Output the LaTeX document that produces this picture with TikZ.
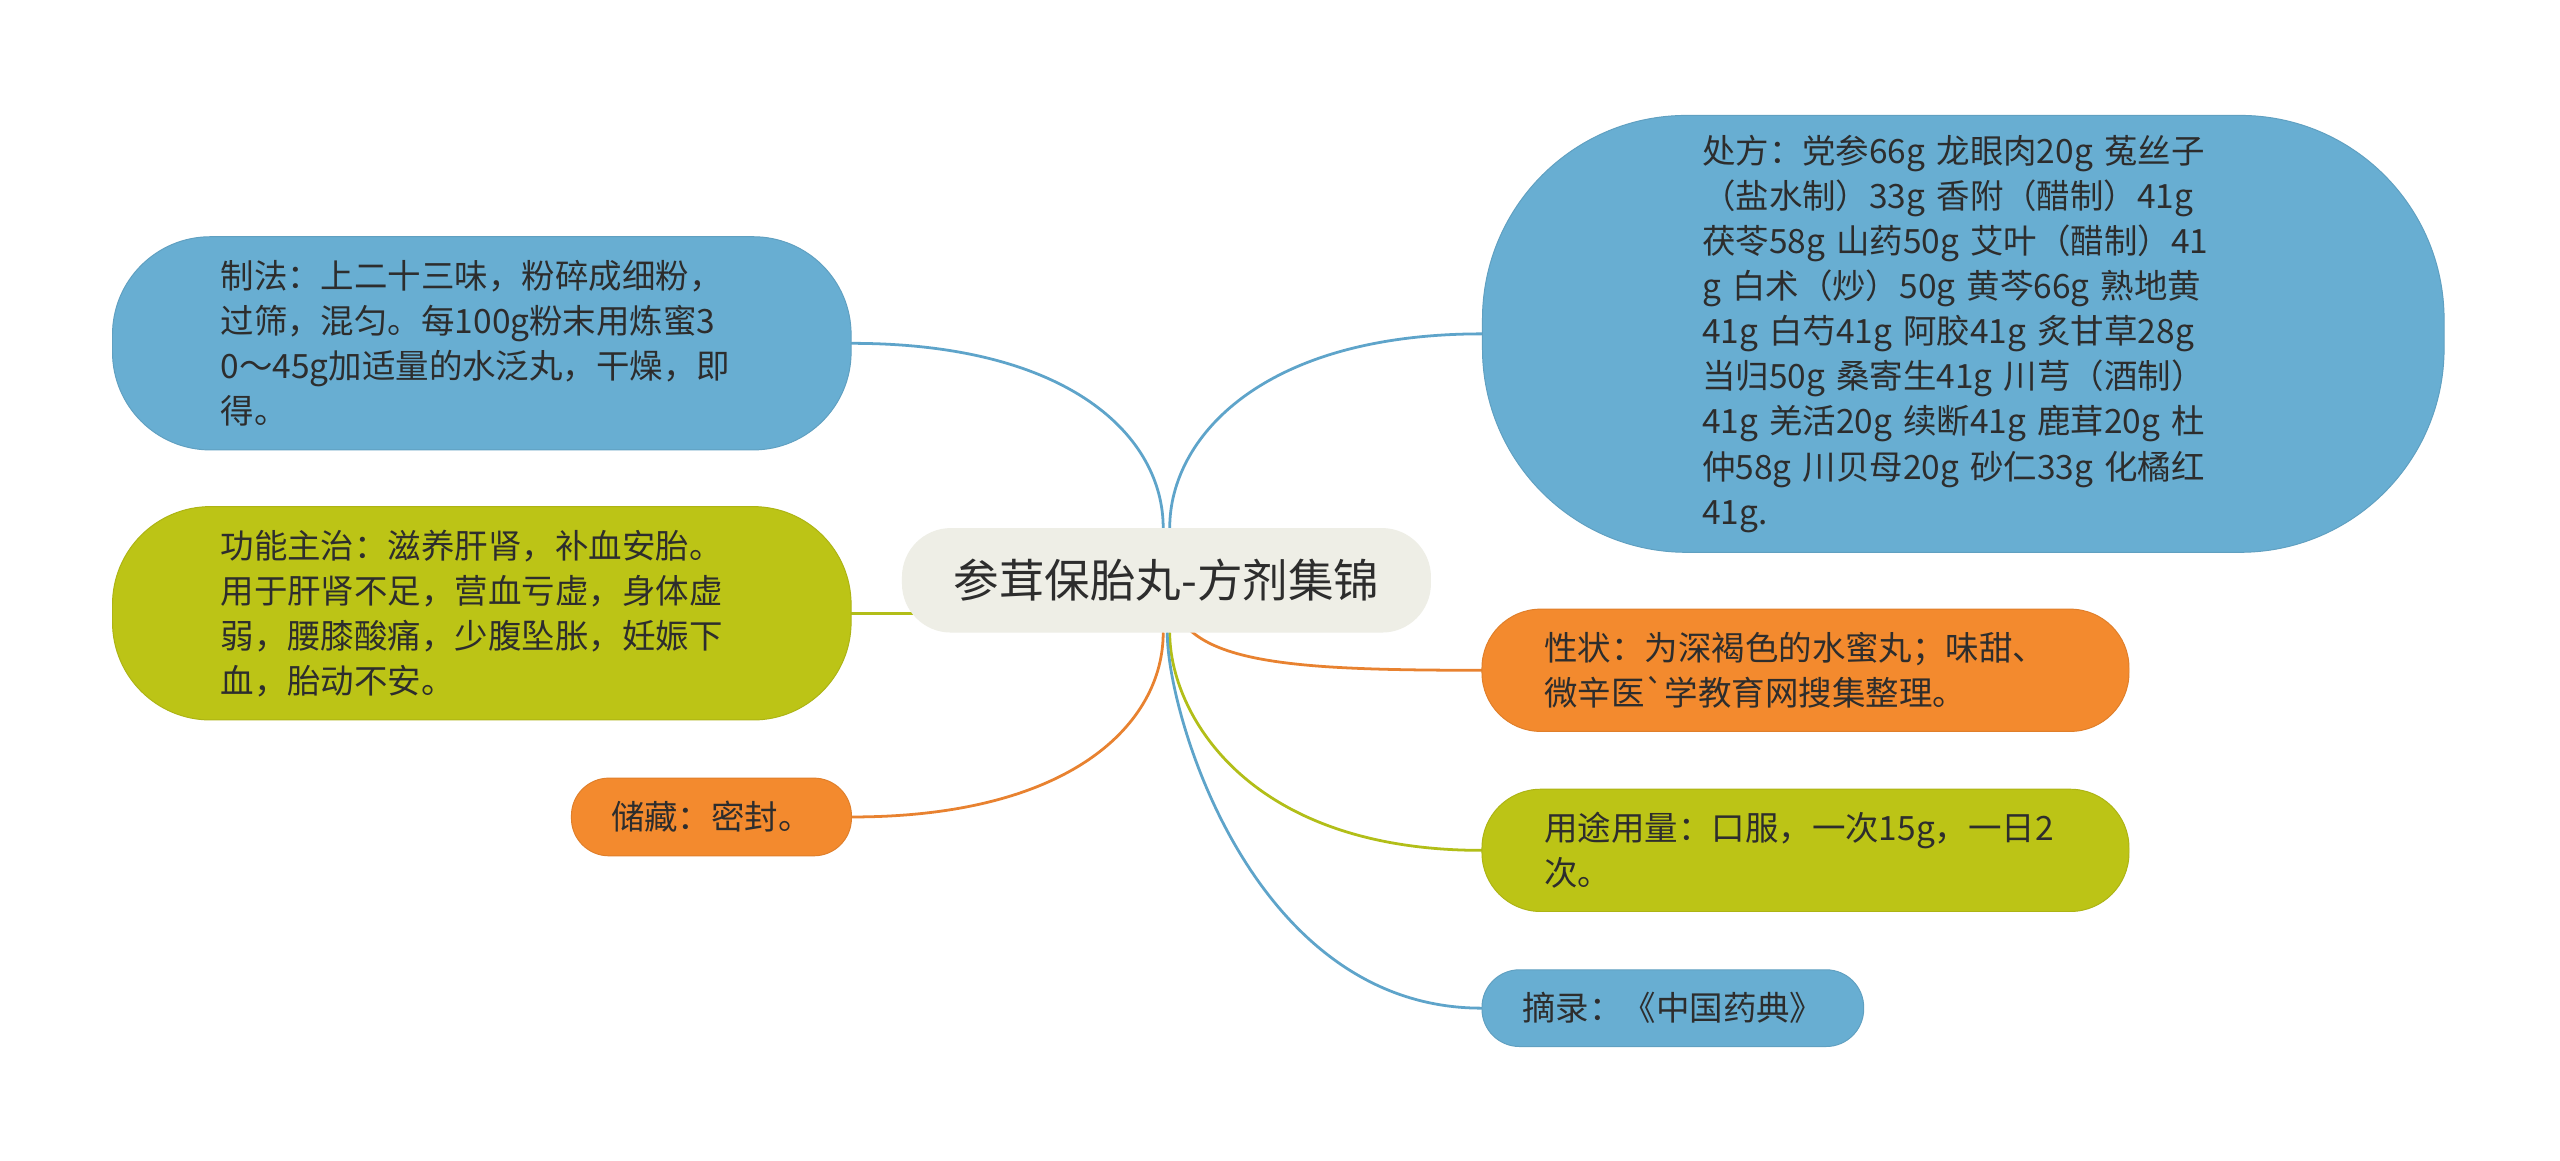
\documentclass[tikz,border=0pt]{standalone}
\usepackage{fontspec}
\setmainfont{Noto Sans CJK SC}
\newfontfamily\plainfont{Noto Sans CJK SC}
\pgfdeclarelayer{paper}
\pgfdeclarelayer{links}
\pgfsetlayers{paper,links,main}
\definecolor{cblue}{RGB}{104,174,210}
\definecolor{corange}{RGB}{243,138,46}
\definecolor{cgreen}{RGB}{188,196,22}
\definecolor{ccenter}{RGB}{238,238,230}
\definecolor{ctext}{RGB}{45,45,45}
\definecolor{lblue}{RGB}{94,164,202}
\definecolor{lorange}{RGB}{232,130,48}
\definecolor{lgreen}{RGB}{178,190,24}
\newcommand{\mmbody}{\fontsize{20.5}{27.6}\selectfont}
\newcommand{\mmtitle}{\fontsize{27.9}{33}\selectfont}
\tikzset{
  pill/.style={rectangle, inner sep=0pt, text=ctext, font=\mmbody, align=left},
  wide/.style={text width=320pt},
  bluebox/.style={pill, fill=cblue, draw=cblue!92!black, line width=0.6pt},
  orangebox/.style={pill, fill=corange, draw=corange!92!black, line width=0.6pt},
  greenbox/.style={pill, fill=cgreen, draw=cgreen!92!black, line width=0.6pt},
  conn/.style={line width=1.7pt, line cap=round}
}
\begin{document}
\begin{tikzpicture}[x=1pt,y=1pt]
\begin{pgfonlayer}{paper}
\fill[white] (0,0) rectangle (1568,711);
\end{pgfonlayer}
\useasboundingbox (0,0) rectangle (1568,711);

\node[pill, fill=ccenter, minimum width=324pt, minimum height=64pt, rounded corners=30pt, font=\mmtitle] (c) at (714.45,355.55) {参茸保胎丸-方剂集锦};

\node[bluebox, wide, minimum width=589pt, minimum height=267.6pt, rounded corners=125pt] (chufang) at (1202.5,506.5)
 {处方：党参66g 龙眼肉20g 菟丝子\\（盐水制）33g 香附（醋制）41g\\茯苓58g 山药50g 艾叶（醋制）41\\g 白术（炒）50g 黄芩66g 熟地黄\\41g 白芍41g 阿胶41g 炙甘草28g\\当归50g 桑寄生41g 川芎（酒制）\\41g 羌活20g 续断41g 鹿茸20g 杜\\仲58g 川贝母20g 砂仁33g 化橘红\\41g.};

\node[orangebox, wide, minimum width=396.3pt, minimum height=74.9pt, rounded corners=36pt] (xingzhuang) at (1105.85,300.45)
 {性状：为深褐色的水蜜丸；味甜、\\微辛医{\plainfont `}学教育网搜集整理。};

\node[greenbox, wide, minimum width=396.3pt, minimum height=74.9pt, rounded corners=36pt] (yongtu) at (1105.85,190.15)
 {用途用量：口服，一次15g，一日2\\次。};

\node[bluebox, minimum width=233.8pt, minimum height=47pt, rounded corners=23pt] (zhailu) at (1024.6,93.5)
 {摘录：《中国药典》};

\node[bluebox, wide, minimum width=452.4pt, minimum height=130.6pt, rounded corners=60pt] (zhifa) at (295.1,500.7)
 {制法：上二十三味，粉碎成细粉，\\过筛，混匀。每100g粉末用炼蜜3\\0～45g加适量的水泛丸，干燥，即\\得。};

\node[greenbox, wide, minimum width=452.4pt, minimum height=130.7pt, rounded corners=60pt] (gongneng) at (295.1,335.35)
 {功能主治：滋养肝肾，补血安胎。\\用于肝肾不足，营血亏虚，身体虚\\弱，腰膝酸痛，少腹坠胀，妊娠下\\血，胎动不安。};

\node[orangebox, minimum width=171.5pt, minimum height=47.6pt, rounded corners=23pt] (chucang) at (435.75,210.6)
 {储藏：密封。};

\begin{pgfonlayer}{links}
\draw[conn, lblue] ([xshift=-2pt]c.north) to[out=90, in=0, out distance=55pt, in distance=135pt] (zhifa.east);
\draw[conn, lblue] ([xshift=2pt]c.north) to[out=90, in=180, out distance=55pt, in distance=135pt] (chufang.west);
\draw[conn, lgreen] (gongneng.east) -- (gongneng.east -| c.center);
\draw[conn, lorange] ([xshift=-2pt]c.south) to[out=-90, in=0, out distance=55pt, in distance=135pt] (chucang.east);
\draw[conn, lorange] ([xshift=2pt]c.center) to[out=-90, in=180, out distance=50pt, in distance=130pt] (xingzhuang.west);
\draw[conn, lgreen] ([xshift=2pt]c.south) to[out=-90, in=180, out distance=48pt, in distance=145pt] (yongtu.west);
\draw[conn, lblue] ([xshift=0.5pt]c.south) to[out=-90, in=180, out distance=50pt, in distance=140pt] (zhailu.west);
\end{pgfonlayer}
\end{tikzpicture}
\end{document}
